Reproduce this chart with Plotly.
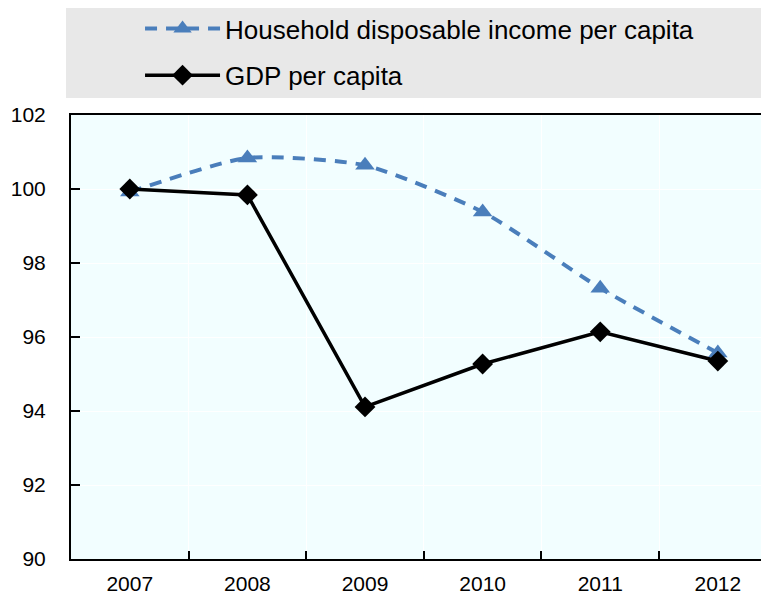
import plotly.graph_objects as go

years = ["2007", "2008", "2009", "2010", "2011", "2012"]
household = [99.92, 100.84, 100.64, 99.38, 97.32, 95.57]
gdp = [100.0, 99.84, 94.11, 95.27, 96.14, 95.35]
y_ticks = [90, 92, 94, 96, 98, 100, 102]

FONT = "Liberation Sans, Arial, sans-serif"

fig = go.Figure()
fig.add_trace(go.Scatter(
    x=years, y=household, name="Household disposable income per capita",
    mode="lines+markers", legendgroup="a",
    line=dict(color="#4A7EBB", width=4, dash="12px,9px", shape="spline", smoothing=0.6),
    marker=dict(symbol="triangle-up", size=17, color="#4A7EBB"),
))
fig.add_trace(go.Scatter(
    x=years, y=gdp, name="GDP per capita",
    mode="lines+markers", legendgroup="b",
    line=dict(color="black", width=3.5),
    marker=dict(symbol="diamond", size=16, color="black"),
))

fig.add_shape(type="rect", xref="paper", yref="paper",
              x0=-0.0072, x1=1.02, y0=1.0383, y1=1.2432,
              fillcolor="#E8E8E8", line=dict(width=0), layer="below")

fig.update_layout(
    width=769, height=595,
    margin=dict(l=63, r=8, t=107, b=44, autoexpand=False),
    paper_bgcolor="white",
    plot_bgcolor="#F2FEFF",
    font=dict(family=FONT, size=21, color="black"),
    showlegend=True,
    legend=dict(
        x=0.0989, y=1.2477, xanchor="left", yanchor="top",
        bgcolor="rgba(0,0,0,0)", font=dict(size=26, family=FONT),
        traceorder="grouped", tracegroupgap=10, itemwidth=75,
    ),
    xaxis=dict(
        type="category", range=[-0.5, 5.435], automargin=False,
        showline=True, linecolor="black", linewidth=2, mirror=True,
        ticks="inside", tickson="boundaries", ticklen=8, tickwidth=2, tickcolor="black",
        showgrid=True, gridcolor="white", gridwidth=1,
        ticklabelstandoff=5,
        tickfont=dict(size=21, family=FONT),
    ),
    yaxis=dict(
        range=[90, 102], tickvals=y_ticks, automargin=False,
        showline=True, linecolor="black", linewidth=2, mirror=True,
        ticks="inside", ticklen=9, tickwidth=2, tickcolor="black",
        showgrid=True, gridcolor="white", gridwidth=1,
        zeroline=False,
        ticklabelstandoff=19,
        tickfont=dict(size=21, family=FONT),
    ),
)

fig.write_html("out.html")
